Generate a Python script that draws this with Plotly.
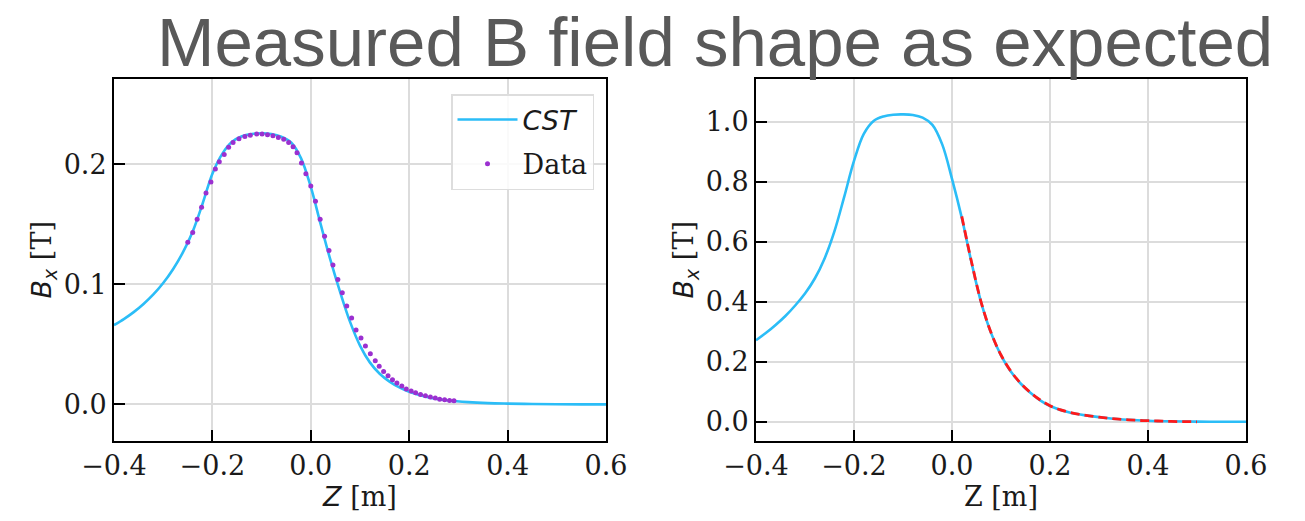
import plotly.graph_objects as go

# ---------------- data ----------------
# Left panel: CST simulation
cst_left_z = [-0.40, -0.38, -0.36, -0.34, -0.32, -0.30, -0.28, -0.26, -0.24, -0.22,
              -0.20, -0.18, -0.16, -0.14, -0.12, -0.10, -0.08, -0.06, -0.04, -0.02,
              0.00, 0.02, 0.04, 0.06, 0.08, 0.10, 0.12, 0.14, 0.16, 0.18,
              0.20, 0.24, 0.28, 0.32, 0.36, 0.40, 0.45, 0.50, 0.55, 0.60]
cst_left_b = [0.066, 0.0710, 0.0768, 0.0836, 0.0915, 0.1010, 0.1125, 0.1265, 0.1440, 0.1670,
              0.1920, 0.2085, 0.2185, 0.2232, 0.2250, 0.2256, 0.2250, 0.2228, 0.2180, 0.2050,
              0.1810, 0.1500, 0.1200, 0.0930, 0.0685, 0.0490, 0.0350, 0.0255, 0.0190, 0.0142,
              0.0105, 0.0058, 0.0033, 0.0019, 0.0011, 0.0007, 0.0004, 0.0002, 0.0001, 0.0001]

# Left panel: measured data points
data_z = [-0.250, -0.240, -0.231, -0.222, -0.213, -0.203, -0.194, -0.186, -0.176, -0.167,
          -0.158, -0.146, -0.134, -0.123, -0.110, -0.099, -0.088, -0.077, -0.066, -0.055,
          -0.045, -0.036, -0.028, -0.019, -0.010, 0.000, 0.0095, 0.019, 0.028, 0.037,
          0.045, 0.055, 0.064, 0.073, 0.083, 0.092, 0.102, 0.111, 0.121, 0.131,
          0.139, 0.148, 0.157, 0.166, 0.175, 0.185, 0.194, 0.204, 0.213, 0.223,
          0.233, 0.243, 0.253, 0.262, 0.272, 0.282, 0.291]
data_b = [0.135, 0.143, 0.154, 0.164, 0.176, 0.185, 0.196, 0.202, 0.208, 0.214,
          0.218, 0.221, 0.223, 0.224, 0.225, 0.225, 0.2245, 0.2236, 0.2222, 0.2206,
          0.218, 0.2144, 0.2094, 0.201, 0.192, 0.1817, 0.169, 0.154, 0.140, 0.128,
          0.116, 0.104, 0.093, 0.082, 0.072, 0.062, 0.0553, 0.0486, 0.0422, 0.0364,
          0.0317, 0.0275, 0.0239, 0.0206, 0.0178, 0.0153, 0.0128, 0.0111, 0.0097, 0.0083,
          0.0072, 0.0061, 0.0053, 0.0044, 0.0039, 0.0033, 0.0031]

# Right panel: CST simulation
cst_right_z = cst_left_z
cst_right_b = [0.272, 0.296, 0.323, 0.353, 0.388, 0.428, 0.478, 0.545, 0.635, 0.750,
               0.870, 0.960, 1.003, 1.018, 1.024, 1.025, 1.023, 1.014, 0.990, 0.925,
               0.810, 0.680, 0.530, 0.395, 0.295, 0.222, 0.168, 0.128, 0.097, 0.072,
               0.053, 0.031, 0.020, 0.012, 0.007, 0.004, 0.002, 0.001, 0.0005, 0.0003]

# Right panel: measurement (dashed red)
meas_right_z = [0.02, 0.04, 0.06, 0.08, 0.10, 0.12, 0.14, 0.16, 0.18, 0.20,
                0.22, 0.24, 0.26, 0.28, 0.30, 0.32, 0.34, 0.36, 0.38, 0.40,
                0.42, 0.44, 0.46, 0.48, 0.50]
meas_right_b = [0.685, 0.532, 0.396, 0.296, 0.223, 0.169, 0.129, 0.098, 0.073, 0.054,
                0.041, 0.032, 0.025, 0.020, 0.016, 0.012, 0.009, 0.007, 0.005, 0.004,
                0.003, 0.002, 0.001, 0.001, 0.000]

x_ticks = [-0.4, -0.2, 0.0, 0.2, 0.4, 0.6]
x_tick_text = ["\u22120.4", "\u22120.2", "0.0", "0.2", "0.4", "0.6"]
left_y_ticks = [0.0, 0.1, 0.2]
right_y_ticks = [0.0, 0.2, 0.4, 0.6, 0.8, 1.0]

TITLE = "Measured B field shape as expected"

# ---------------- figure ----------------
W, H = 1305, 521
BLUE = "#2BBDF7"
PURPLE = "#9B30D0"
SERIF = "DejaVu Serif"
FS = 27

fig = go.Figure()

fig.add_trace(go.Scatter(x=cst_left_z, y=cst_left_b, mode="lines", line=dict(color=BLUE, width=2.6, shape="spline"),
                         name="<span style=\"font-family:'DejaVu Sans'\"><i>CST</i></span>",
                         legendgroup="a", xaxis="x", yaxis="y"))
fig.add_trace(go.Scatter(x=data_z, y=data_b, mode="markers", marker=dict(color=PURPLE, size=5),
                         name="Data", legendgroup="b", xaxis="x", yaxis="y"))
fig.add_trace(go.Scatter(x=cst_right_z, y=cst_right_b, mode="lines", line=dict(color=BLUE, width=2.6, shape="spline"),
                         showlegend=False, xaxis="x2", yaxis="y2"))
fig.add_trace(go.Scatter(x=meas_right_z, y=meas_right_b, mode="lines",
                         line=dict(color="#FF1A1A", width=2.8, dash="9px,5px", shape="spline"),
                         showlegend=False, xaxis="x2", yaxis="y2"))

ydom = [1 - 440.5 / H, 1 - 79 / H]
axis_common = dict(
    showline=True, linecolor="black", linewidth=2, mirror=True, automargin=False,
    ticks="inside", ticklen=11, tickwidth=2, tickcolor="black",
    showgrid=True, gridcolor="#DCDCDC", gridwidth=1.5, zeroline=False,
    tickfont=dict(family=SERIF, size=FS, color="#1a1a1a"),
)
title_font = dict(family=SERIF, size=FS, color="#1a1a1a")
btitle = "<span style=\"font-family:'DejaVu Sans'\"><i>B</i><sub><i>x</i></sub></span> [T]"

fig.update_layout(
    width=W, height=H,
    margin=dict(l=0, r=0, t=0, b=0),
    paper_bgcolor="white", plot_bgcolor="white",
    xaxis=dict(domain=[114 / W, 606 / W], range=[-0.4, 0.6], anchor="y",
               tickvals=x_ticks, ticktext=x_tick_text,
               title=dict(text="<span style=\"font-family:'DejaVu Sans'\"><i>Z</i></span> [m]",
                          font=title_font, standoff=0),
               **axis_common),
    yaxis=dict(domain=ydom, range=[-0.030, 0.2708], anchor="x",
               tickvals=left_y_ticks, ticktext=["0.0", "0.1", "0.2"],
               title=dict(text=btitle, font=title_font, standoff=4),
               **axis_common),
    xaxis2=dict(domain=[756 / W, 1246 / W], range=[-0.4, 0.6], anchor="y2",
                tickvals=x_ticks, ticktext=x_tick_text,
                title=dict(text="Z [m]", font=title_font, standoff=0),
                **axis_common),
    yaxis2=dict(domain=ydom, range=[-0.062, 1.143], anchor="x2",
                tickvals=right_y_ticks, ticktext=["0.0", "0.2", "0.4", "0.6", "0.8", "1.0"],
                title=dict(text=btitle, font=title_font, standoff=4),
                **axis_common),
    legend=dict(x=594 / W, xanchor="right", y=1 - 94 / H, yanchor="top",
                bgcolor="rgba(255,255,255,0.85)", bordercolor="#DDDDDD", borderwidth=1.5,
                font=dict(family=SERIF, size=FS, color="#1a1a1a"),
                tracegroupgap=6, traceorder="grouped", itemwidth=60),
    showlegend=True,
    annotations=[dict(text=TITLE, xref="paper", yref="paper", x=715 / W, y=1 - 43 / H,
                      xanchor="center", yanchor="middle", showarrow=False,
                      font=dict(family="Liberation Sans", size=69, color="#595959"))],
)

fig.write_html("out.html")
